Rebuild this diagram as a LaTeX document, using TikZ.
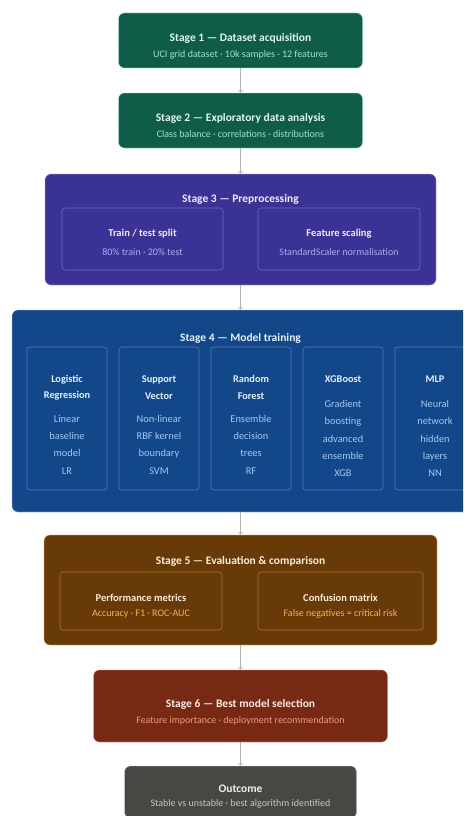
\documentclass[tikz,border=0pt]{standalone}
\usepackage{fontspec}
\setmainfont{Carlito}

\definecolor{tealbg}{HTML}{0F5C48}
\definecolor{tealhi}{HTML}{E1F5EE}
\definecolor{tealsub}{HTML}{9FE1CB}
\definecolor{purplebg}{HTML}{3B3296}
\definecolor{purplehi}{HTML}{EEEDFE}
\definecolor{purplesub}{HTML}{AFA9EC}
\definecolor{bluebg}{HTML}{12478A}
\definecolor{bluehi}{HTML}{E6F1FB}
\definecolor{bluesub}{HTML}{A5C8EE}
\definecolor{amberbg}{HTML}{673A08}
\definecolor{amberhi}{HTML}{FAEEDA}
\definecolor{ambersub}{HTML}{F0B550}
\definecolor{coralbg}{HTML}{772914}
\definecolor{coralhi}{HTML}{FAECE7}
\definecolor{coralsub}{HTML}{F0997B}
\definecolor{graybg}{HTML}{474744}
\definecolor{grayhi}{HTML}{F1EFE8}
\definecolor{graysub}{HTML}{C9C7BE}
\definecolor{linkgray}{HTML}{B4B2A9}

\newcommand{\stagefont}{\fontsize{11.5}{13}\selectfont\bfseries}
\newcommand{\cardfont}{\fontsize{10.5}{13}\selectfont\bfseries}
\newcommand{\notefont}{\fontsize{10}{12}\selectfont}
\newcommand{\namefont}{\fontsize{10.3}{16.5}\selectfont\bfseries}
\newcommand{\listfont}{\fontsize{10.4}{17.3}\selectfont}

\tikzset{
  stage/.style={fill=#1bg, draw=#1sub, draw opacity=0.5, line width=0.6pt,
    rounded corners=6pt, inner sep=0pt},
  card/.style={draw=#1sub, draw opacity=0.45, line width=0.6pt,
    rounded corners=3pt, inner sep=0pt},
  stitle/.style={inner sep=0pt, font=\stagefont, text=#1hi},
  ctitle/.style={inner sep=0pt, font=\cardfont, text=#1hi},
  csub/.style={inner sep=0pt, font=\notefont, text=#1sub},
  model/.style={card=blue, minimum width=80, minimum height=143},
  mname/.style={align=center, inner sep=0pt, font=\namefont, text=bluehi},
  mdesc/.style={align=center, inner sep=0pt, font=\listfont, text=bluesub},
  flow/.style={->, draw=linkgray, line width=0.8pt}
}

\begin{document}
\begin{tikzpicture}[x=1pt,y=-1pt]
    \useasboundingbox (0,0) rectangle (463,816);
    \fill [white] (0,0) rectangle (463,816);
    \clip (0,0) rectangle (463,816);

    
    \node [stage=teal, minimum width=244, minimum height=55] (s1) at (240.5,40.5) {};
    \node [stitle=teal] (t1) at (240.5,38.5) {Stage 1 — Dataset acquisition};
    \node [csub=teal]   (u1) at (240.5,54.5) {UCI grid dataset · 10k samples · 12 features};

    \node [stage=teal, minimum width=244, minimum height=55] (s2) at (240.5,120.5) {};
    \node [stitle=teal] (t2) at (240.5,118.5) {Stage 2 — Exploratory data analysis};
    \node [csub=teal]   (u2) at (240.5,134.5) {Class balance · correlations · distributions};

    
    \node [stage=purple, minimum width=391, minimum height=111] (s3) at (240.5,229.5) {};
    \node [stitle=purple] (t3) at (240.5,199) {Stage 3 — Preprocessing};
    \node [card=purple, minimum width=161, minimum height=62] (c31) at (142.5,239) {};
    \node [ctitle=purple] (t31) at (142.5,234) {Train / test split};
    \node [csub=purple]   (u31) at (142.5,252) {80\% train · 20\% test};
    \node [card=purple, minimum width=162, minimum height=62] (c32) at (339,239) {};
    \node [ctitle=purple] (t32) at (339,234) {Feature scaling};
    \node [csub=purple]   (u32) at (339,252) {StandardScaler normalisation};

    
    \node [stage=blue, minimum width=478, minimum height=202] (s4) at (251,411) {};
    \node [stitle=blue] (t4) at (240.5,338) {Stage 4 — Model training};
    \foreach \i in {1,...,5}
        \node [model] (m\i) at (-25+92*\i,418.5) {};

    \node [mname] (n1) at (67,387.5)  {Logistic\\Regression};
    \node [mdesc] (d1) at (67,444.5)  {Linear\\baseline\\model\\LR};
    \node [mname] (n2) at (159,387.5) {Support\\Vector};
    \node [mdesc] (d2) at (159,444.5) {Non-linear\\RBF kernel\\boundary\\SVM};
    \node [mname] (n3) at (251,387.5) {Random\\Forest};
    \node [mdesc] (d3) at (251,444.5) {Ensemble\\decision\\trees\\RF};
    \node [mname] (n4) at (343,379.5) {XGBoost};
    \node [mdesc] (d4) at (343,438.5) {Gradient\\boosting\\advanced\\ensemble\\XGB};
    \node [mname] (n5) at (435,379.5) {MLP};
    \node [mdesc] (d5) at (435,438.5) {Neural\\network\\hidden\\layers\\NN};

    
    \node [stage=amber, minimum width=393, minimum height=110] (s5) at (240.5,590) {};
    \node [stitle=amber] (t5) at (240.5,561) {Stage 5 — Evaluation \& comparison};
    \node [card=amber, minimum width=162, minimum height=58] (c51) at (141,601) {};
    \node [ctitle=amber] (t51) at (141,598) {Performance metrics};
    \node [csub=amber]   (u51) at (141,614) {Accuracy · F1 · ROC-AUC};
    \node [card=amber, minimum width=165, minimum height=58] (c52) at (340.5,601) {};
    \node [ctitle=amber] (t52) at (340.5,598) {Confusion matrix};
    \node [csub=amber]   (u52) at (340.5,614) {False negatives = critical risk};

    
    \node [stage=coral, minimum width=294, minimum height=72] (s6) at (240.5,706) {};
    \node [stitle=coral] (t6) at (240.5,704) {Stage 6 — Best model selection};
    \node [csub=coral]   (u6) at (240.5,721) {Feature importance · deployment recommendation};

    \node [stage=gray, minimum width=232, minimum height=52] (s7) at (240.5,792) {};
    \node [stitle=gray] (t7) at (240.5,789) {Outcome};
    \node [csub=gray]   (u7) at (240.5,804) {Stable vs unstable · best algorithm identified};

    
    \draw [flow] (s1.south) -- (s2.north);
    \draw [flow] (s2.south) -- (s3.north);
    \draw [flow] (s3.south) -- (s3.south |- s4.north);
    \draw [flow] (s3.south |- s4.south) -- (s5.north);
    \draw [flow] (s5.south) -- (s6.north);
    \draw [flow] (s6.south) -- (s7.north);
\end{tikzpicture}
\end{document}
